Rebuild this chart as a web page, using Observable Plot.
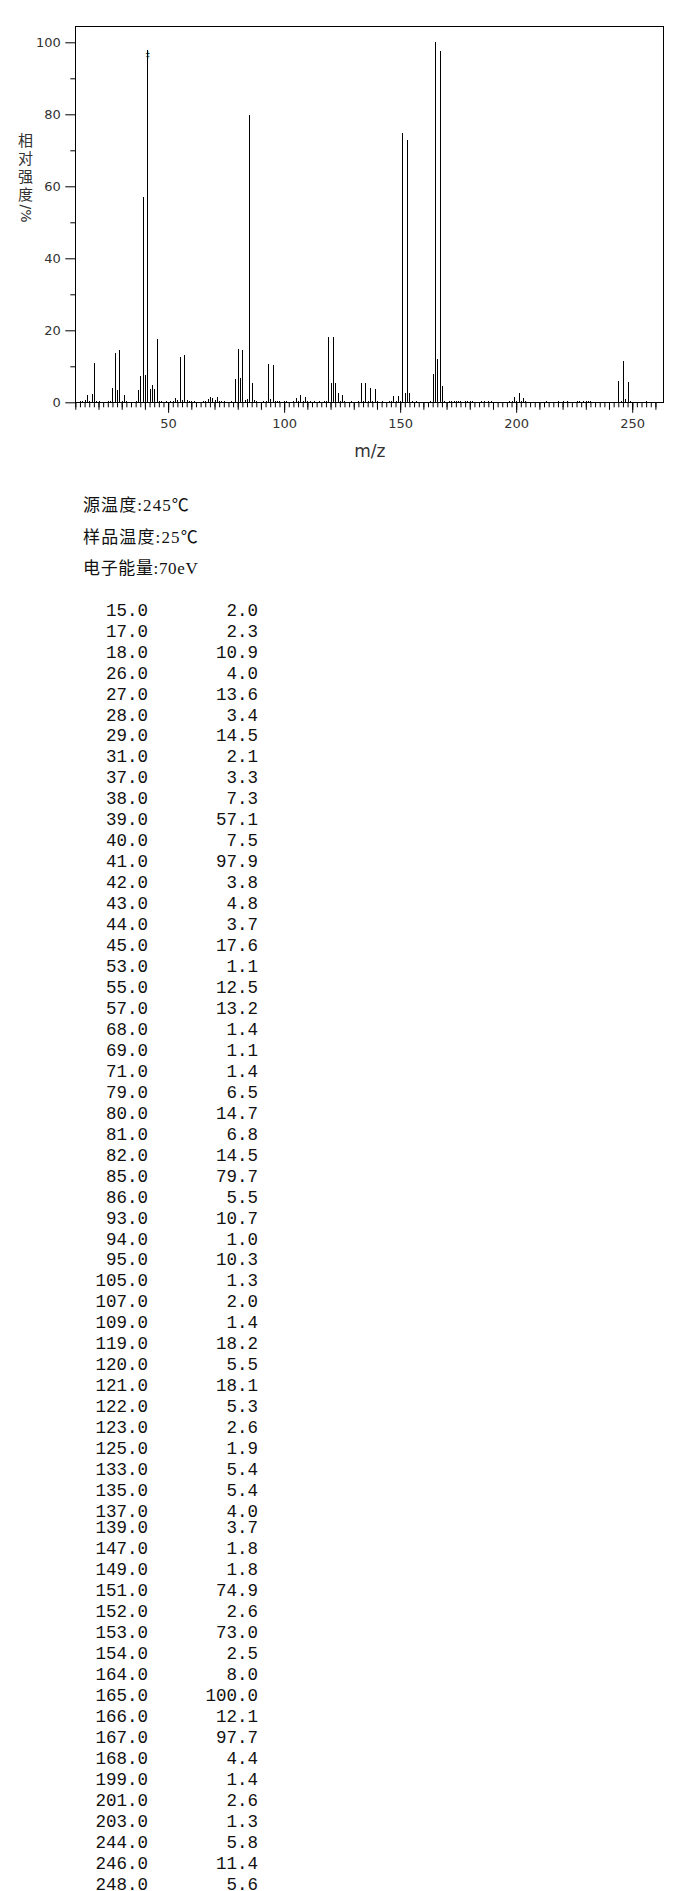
<!DOCTYPE html>
<html><head><meta charset="utf-8">
<script src="https://cdn.jsdelivr.net/npm/d3@7"></script>
<script src="https://cdn.jsdelivr.net/npm/@observablehq/plot@0.6"></script>
<style>
html,body{margin:0;padding:0;background:#fff;}
#page{position:relative;width:687px;height:1891px;overflow:hidden;background:#fff;}
#page svg{position:absolute;left:0;top:0;}
</style></head><body><div id="page"></div>
<script>
// Listed peaks (m/z, relative intensity %)
const peakMz = [15,17,18,26,27,28,29,31,37,38,39,40,41,42,43,44,45,53,55,57,68,69,71,79,80,81,82,85,86,93,94,95,105,107,109,119,120,121,122,123,125,133,135,137,139,147,149,151,152,153,154,164,165,166,167,168,199,201,203,244,246,248];
const peakInt = [2.0,2.3,10.9,4.0,13.6,3.4,14.5,2.1,3.3,7.3,57.1,7.5,97.9,3.8,4.8,3.7,17.6,1.1,12.5,13.2,1.4,1.1,1.4,6.5,14.7,6.8,14.5,79.7,5.5,10.7,1.0,10.3,1.3,2.0,1.4,18.2,5.5,18.1,5.3,2.6,1.9,5.4,5.4,4.0,3.7,1.8,1.8,74.9,2.6,73.0,2.5,8.0,100.0,12.1,97.7,4.4,1.4,2.6,1.3,5.8,11.4,5.6];
// Small unlisted peaks
const minorMz = [12,13,14,16,19,20,24,25,30,32,36,46,47,49,51,52,54,56,58,59,60,61,65,66,67,70,72,73,74,77,83,84,87,88,91,92,96,97,98,100,101,104,106,108,110,111,113,115,117,118,124,126,129,132,134,136,138,140,142,145,146,148,150,155,157,163,169,171,172,173,174,175,176,178,179,180,181,185,186,188,189,197,198,200,202,204,213,218,220,222,226,227,229,230,231,232,245,247,249,256];
const minorInt = [0.4,0.4,0.6,0.3,0.4,0.3,0.3,0.5,0.5,0.5,0.3,0.5,0.3,0.3,0.3,0.3,0.6,0.7,0.7,0.3,0.5,0.3,0.3,0.4,0.8,0.6,0.5,0.4,0.3,0.3,0.6,0.8,0.7,0.3,0.4,0.4,0.5,0.3,0.3,0.3,0.3,0.3,0.5,0.4,0.5,0.3,0.3,0.3,0.4,0.5,0.3,0.4,0.3,0.3,0.4,0.3,0.3,0.3,0.3,0.3,0.5,0.4,0.5,0.4,0.3,0.3,0.5,0.3,0.3,0.4,0.3,0.3,0.3,0.3,0.3,0.3,0.3,0.3,0.3,0.3,0.3,0.3,0.5,0.5,0.3,0.3,0.3,0.3,0.3,0.3,0.3,0.3,0.5,0.3,0.3,0.3,0.5,0.8,0.3,0.3];
const markedPeak = 41;
const yTicks = [0,20,40,60,80,100];
const xTicks = [50,100,150,200,250];
const xLabel = "m/z";
const yLabel = "相对强度";
const yLabelUnit = "/%";
const conditions = ["源温度:245℃","样品温度:25℃","电子能量:70eV"];

const peaks = peakMz.map((mz,i)=>({mz, intensity: peakInt[i]}));
const minor = minorMz.map((mz,i)=>({mz, intensity: minorInt[i]}));
const all = peaks.concat(minor);

// vertical y-axis title: one upright glyph per line
const yLabelMarks = Array.from(yLabel).map((ch, i) =>
  Plot.text([ch], {frameAnchor: "top-left", dx: -50.3, dy: 114.5 + i * 18, fontSize: 15, fill: "#333",
    fontFamily: "Noto Sans CJK SC", textAnchor: "middle", lineAnchor: "middle"}));

const chart = Plot.plot({
  width: 687, height: 470,
  marginLeft: 75.3, marginRight: 23.7, marginTop: 26, marginBottom: 67.7,
  x: {domain: [10, 263.4], label: null},
  y: {domain: [0, 104.53], label: null},
  style: {fontFamily: "DejaVu Sans", fontSize: "13px", background: "white", color: "black"},
  marks: [
    Plot.ruleX(all, {x: "mz", y1: 0, y2: "intensity", stroke: "black", strokeWidth: 1, shapeRendering: "crispEdges"}),
    Plot.frame({stroke: "black", shapeRendering: "crispEdges"}),
    Plot.axisY({ticks: yTicks, tickSize: 10, tickPadding: 5, stroke: "black", fill: "#333", label: null, fontSize: 13}),
    Plot.axisY({ticks: d3.range(10, 100, 20), tickSize: 5, stroke: "black", fill: "none", label: null}),
    Plot.axisX({ticks: xTicks, tickSize: 10.5, tickPadding: 5.5, stroke: "black", fill: "#333", label: null, fontSize: 13}),
    Plot.axisX({ticks: d3.range(10, 261, 10), tickSize: 7.5, stroke: "black", fill: "none", label: null}),
    Plot.axisX({ticks: d3.range(10, 261, 2), tickSize: 5, stroke: "black", fill: "none", label: null}),
    Plot.text(peaks.filter(d => d.mz === markedPeak), {x: "mz", y: "intensity", text: () => "‡", fontSize: 8, lineAnchor: "middle", dy: 5, fill: "black"}),
    ...yLabelMarks,
    Plot.text([yLabelUnit], {frameAnchor: "top-left", dx: -50.3, dy: 187, rotate: 90, fontSize: 14, fill: "#333", fontFamily: "DejaVu Sans", textAnchor: "middle", lineAnchor: "middle"}),
    Plot.text([xLabel], {frameAnchor: "bottom", dy: 49, fontSize: 17, fill: "#333", fontFamily: "DejaVu Sans", lineAnchor: "middle"})
  ]
});
document.getElementById("page").appendChild(chart);

// Conditions and peak table
const svg = d3.select("#page").append("svg").attr("width", 687).attr("height", 1891).style("pointer-events", "none");
const charW = ch => (ch.charCodeAt(0) > 0x2000 ? 17.8 : 8.9);
conditions.forEach((line, i) => {
  svg.append("text")
    .attr("x", 83).attr("y", [511, 543, 574][i])
    .attr("textLength", Array.from(line).reduce((s, c) => s + charW(c), 0) - 1)
    .attr("lengthAdjust", "spacing")
    .style("font-family", "'Liberation Serif','Noto Sans CJK SC'")
    .style("font-size", "17px").style("fill", "#111")
    .text(line);
});
const rowY = i => 615.7 + i * 20.96 - (i >= 44 ? 4.5 : 0);
peaks.forEach((d, i) => {
  svg.append("text").attr("x", 148).attr("y", rowY(i)).attr("text-anchor", "end")
    .style("font-family", "'Liberation Mono'").style("font-size", "17.5px").style("fill", "#111")
    .text(d.mz.toFixed(1));
  svg.append("text").attr("x", 258).attr("y", rowY(i)).attr("text-anchor", "end")
    .style("font-family", "'Liberation Mono'").style("font-size", "17.5px").style("fill", "#111")
    .text(d.intensity.toFixed(1));
});
</script></body></html>
